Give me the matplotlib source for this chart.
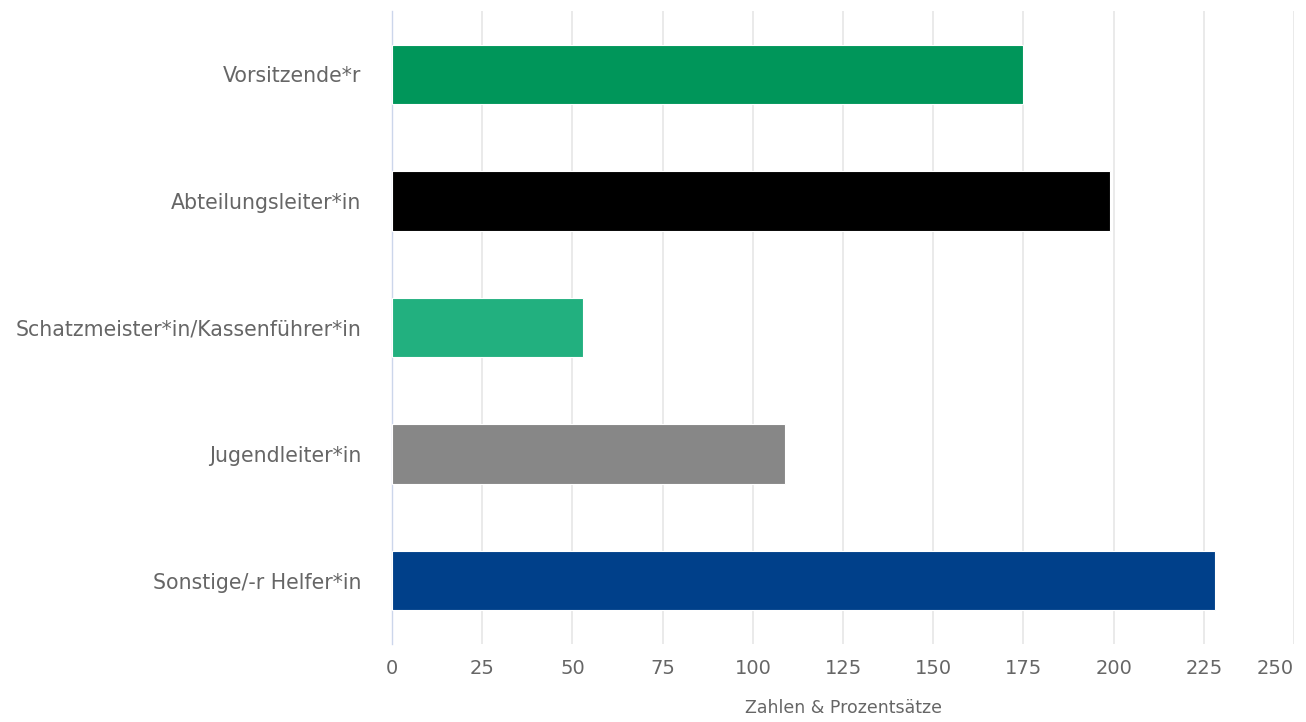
import matplotlib
matplotlib.use("Agg")
import matplotlib.pyplot as plt

categories = ["Vorsitzende*r", "Abteilungsleiter*in", "Schatzmeister*in/Kassenführer*in",
              "Jugendleiter*in", "Sonstige/-r Helfer*in"]
values = [175, 199, 53, 109, 228]
colors = ["#00965a", "#000000", "#22b07f", "#878787", "#00408a"]
xticks = [0, 25, 50, 75, 100, 125, 150, 175, 200, 225, 250]
xlabel = "Zahlen & Prozentsätze"

plt.rcParams['font.family'] = ['DejaVu Sans']
fig = plt.figure(figsize=(13.06, 7.22), dpi=100)
ax = fig.add_axes([0.3002, 0.108, 0.6906, 0.8767])

ypos = list(range(len(categories)))
ax.barh(ypos, values, height=0.47, color=colors, edgecolor="white", linewidth=0.8, zorder=3)
ax.set_ylim(len(categories) - 0.5, -0.5)
ax.set_xlim(0, 250)
ax.set_yticks(ypos)
ax.set_yticklabels(categories, fontsize=14.8, color="#666666")
ax.set_xticks(xticks)
xtl = ax.set_xticklabels([str(t) for t in xticks], fontsize=14, color="#666666")
xtl[-1].set_horizontalalignment("right")
ax.tick_params(axis="y", length=0, pad=22)
ax.tick_params(axis="x", length=0, pad=11)
ax.xaxis.grid(True, color="#e6e6e6", linewidth=1.2, zorder=0)
for s in ["top", "right", "bottom"]:
    ax.spines[s].set_visible(False)
ax.spines["left"].set_color("#ccd6eb")
ax.spines["left"].set_linewidth(1)
ax.set_xlabel(xlabel, fontsize=12.5, color="#666666", labelpad=15)

fig.savefig("out.png", dpi=100)
